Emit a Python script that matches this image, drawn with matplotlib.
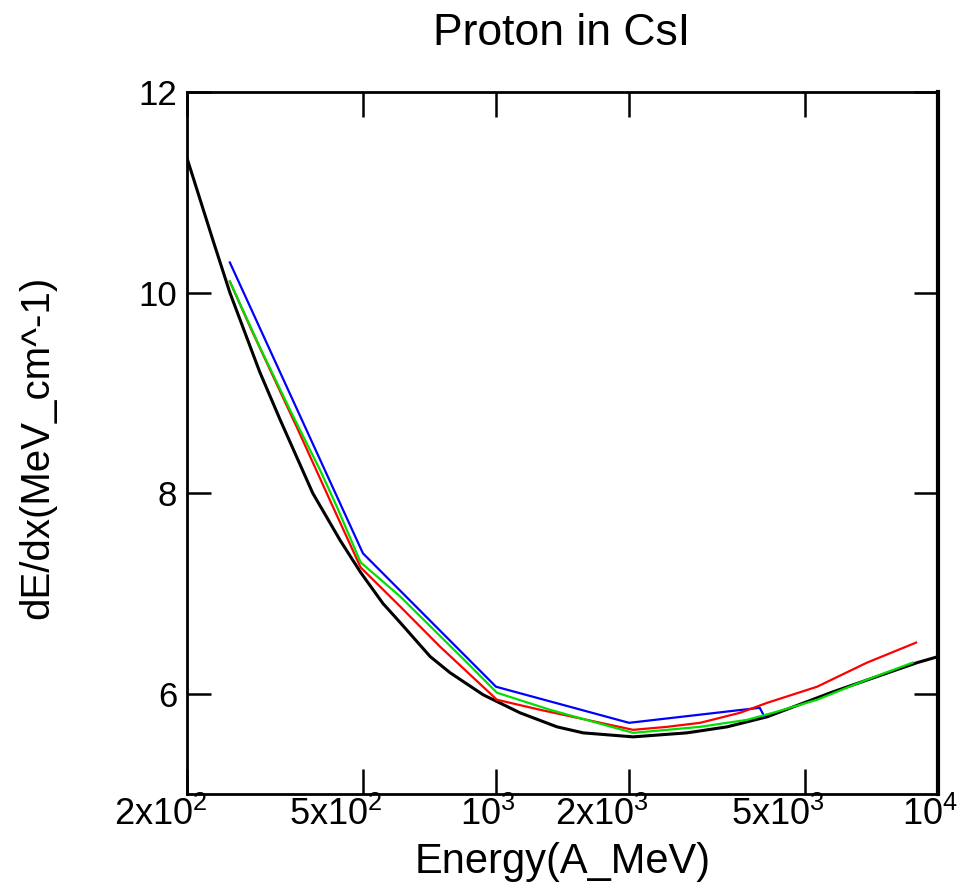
"""
plot.py

Stopping power dE/dx of protons in CsI vs energy, four model curves.
"""

import matplotlib
matplotlib.use("Agg")
import matplotlib.pyplot as plt
import matplotlib.transforms as mtransforms

# values
black_E = [200, 229, 250, 292, 325, 385, 444, 494, 555, 607, 710, 787, 935, 1133, 1374, 1574,
           2043, 2705, 3334, 4105, 5794, 8970, 10000]
black_V = [11.34, 10.52, 10.00, 9.21, 8.73, 8.00, 7.53, 7.21, 6.90, 6.71, 6.37, 6.21, 5.99, 5.81, 5.67, 5.61,
           5.57, 5.61, 5.67, 5.77, 6.02, 6.31, 6.37]

blue_E = [250, 500, 1000, 2000, 3950, 4050]
blue_V = [10.30, 7.40, 6.07, 5.71, 5.86, 5.77]

red_E = [250, 279, 355, 421, 494, 607, 747, 1005, 1258, 2043, 2438, 2895, 3565, 4110, 5325, 6905, 8920]
red_V = [10.11, 9.64, 8.65, 7.93, 7.26, 6.87, 6.47, 5.94, 5.84, 5.64, 5.67, 5.71, 5.81, 5.91, 6.07, 6.31, 6.51]

green_E = [250, 292, 342, 400, 437, 494, 607, 860, 1005, 1325, 2043, 2438, 2895, 3700, 4233, 5325, 6905, 8760]
green_V = [10.11, 9.46, 8.83, 8.23, 7.86, 7.31, 6.97, 6.31, 6.01, 5.84, 5.61, 5.64, 5.67, 5.74, 5.81, 5.94, 6.14, 6.31]

x_ticks = [200, 500, 1000, 2000, 5000, 10000]
x_ticklabels = ["2x10$^{2}$", "5x10$^{2}$", "10$^{3}$", "2x10$^{3}$", "5x10$^{3}$", "10$^{4}$"]
y_ticks = [6, 8, 10, 12]

TITLE = "Proton in CsI"
XLABEL = "Energy(A_MeV)"
YLABEL = "dE/dx(MeV_cm^-1)"

plt.rcParams["font.family"] = ["Liberation Sans", "DejaVu Sans"]
plt.rcParams["mathtext.fontset"] = "custom"
plt.rcParams["mathtext.rm"] = "Liberation Sans"
plt.rcParams["mathtext.it"] = "Liberation Sans"
plt.rcParams["mathtext.default"] = "rm"


def main():
    fig = plt.figure(figsize=(9.62, 8.86), dpi=100)
    ax = fig.add_axes([0.1944, 0.1038, 0.7807, 0.7924])

    ax.plot(black_E, black_V, color="black", lw=2.2)
    ax.plot(blue_E, blue_V, color="#0000ff", lw=1.6)
    ax.plot(red_E, red_V, color="#ff0000", lw=1.6)
    ax.plot(green_E, green_V, color="#00e000", lw=1.6)

    ax.set_xscale("log")
    ax.set_xlim(200, 10000)
    ax.set_ylim(5, 12)
    ax.minorticks_off()

    ax.tick_params(axis="x", direction="in", length=18, width=1.8, top=True, pad=2)
    ax.tick_params(axis="y", direction="in", length=17, width=1.8, right=True, pad=7)
    for sp in ax.spines.values():
        sp.set_linewidth(2)
    ax.spines["right"].set_linewidth(3)

    ax.set_xticks(x_ticks)
    ax.set_xticklabels(x_ticklabels, fontsize=26, ha="right")
    ax.set_yticks(y_ticks)
    ax.set_yticklabels([str(v) for v in y_ticks], fontsize=25)
    # base of each label ends at its tick, the exponent hangs to the right
    shift = mtransforms.ScaledTranslation(0.2, 0, fig.dpi_scale_trans)
    for lab in ax.get_xticklabels():
        lab.set_transform(lab.get_transform() + shift)

    ax.set_xlabel(XLABEL, fontsize=30, va="baseline")
    ax.xaxis.set_label_coords(0.5, -0.1125)
    ax.set_ylabel(YLABEL, fontsize=29, va="center")
    ax.yaxis.set_label_coords(-0.2, 0.494)

    fig.text(0.584, 0.949, TITLE, fontsize=32, ha="center", va="baseline")

    fig.savefig("out.png", dpi=100, facecolor="white")


if __name__ == "__main__":
    main()
